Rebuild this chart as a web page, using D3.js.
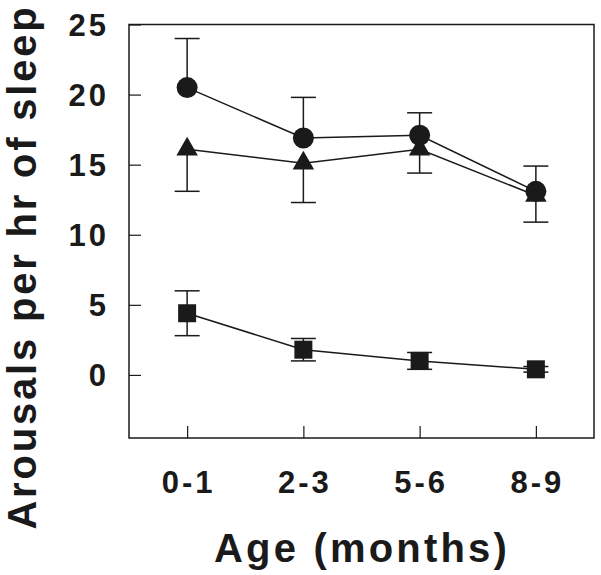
<!DOCTYPE html>
<html><head><meta charset="utf-8">
<script src="https://cdn.jsdelivr.net/npm/d3@7"></script>
<style>body{margin:0;background:#fff}svg{display:block}text{font-family:"Liberation Sans",Arial,Helvetica,sans-serif;font-weight:bold;fill:#1a1a1a}</style>
</head><body><svg id="c" width="601" height="575"></svg>
<script>
const categories = ["0-1", "2-3", "5-6", "8-9"];
const yTicks = [0, 5, 10, 15, 20, 25];
const circleVals = [20.5, 16.9, 17.1, 13.1];
const circleErrUp = [24.0, 19.8, 18.7, 14.9];
const triangleVals = [16.1, 15.1, 16.1, 12.8];
const triangleErrDown = [13.1, 12.3, 14.4, 10.9];
const squareVals = [4.4, 1.8, 1.0, 0.4];
const squareErrUp = [6.0, 2.6, 1.6, 0.6];
const squareErrDown = [2.8, 1.0, 0.4, 0.2];

const svg = d3.select("#c");
const L = 129, R = 594, T = 24.5, B = 438;
const x = d3.scaleLinear().domain([-0.5, categories.length - 0.5]).range([L, R]);
const y = d3.scaleLinear().domain([-4.5, 25]).range([B, T]);
const ink = "#1a1a1a";

// frame
svg.append("rect").attr("x", L).attr("y", T).attr("width", R - L).attr("height", B - T)
  .attr("fill", "none").attr("stroke", ink).attr("stroke-width", 1.5);

// y axis
const ya = svg.append("g").attr("transform", `translate(${L},0)`)
  .call(d3.axisRight(y).tickValues(yTicks).tickSize(12).tickPadding(0).tickFormat(""));
ya.select(".domain").remove();
ya.selectAll("line").attr("stroke", ink).attr("stroke-width", 1.2);
svg.append("g").selectAll("text").data(yTicks).join("text")
  .attr("x", 109).attr("y", d => y(d)).attr("dy", "0.36em")
  .attr("text-anchor", "end").attr("font-size", 31).attr("letter-spacing", 3)
  .text(d => d);

// x axis
const xa = svg.append("g").attr("transform", `translate(0,${B})`)
  .call(d3.axisTop(x).tickValues(d3.range(categories.length)).tickSize(12).tickFormat(""));
xa.select(".domain").remove();
xa.selectAll("line").attr("stroke", ink).attr("stroke-width", 1.2);
svg.append("g").selectAll("text").data(categories).join("text")
  .attr("x", (d, i) => x(i) + 1.5).attr("y", 493)
  .attr("text-anchor", "middle").attr("font-size", 31).attr("letter-spacing", 3)
  .text(d => d);

// titles
svg.append("text").attr("x", 362).attr("y", 562).attr("text-anchor", "middle")
  .attr("font-size", 40).attr("letter-spacing", 3.2).text("Age (months)");
svg.append("text").attr("transform", "translate(36,267) rotate(-90)").attr("text-anchor", "middle")
  .attr("font-size", 40).attr("letter-spacing", 2.8).text("Arousals per hr of sleep");

const idx = d3.range(categories.length);
const line = d3.line().x(d => x(d[0])).y(d => y(d[1]));
const cap = 12.5;
function errBar(g, i, a, b) {
  g.append("line").attr("x1", x(i)).attr("x2", x(i)).attr("y1", y(a)).attr("y2", y(b));
  g.append("line").attr("x1", x(i) - cap).attr("x2", x(i) + cap).attr("y1", y(b)).attr("y2", y(b));
}
const eg = svg.append("g").attr("stroke", ink).attr("stroke-width", 1.5);
idx.forEach(i => {
  errBar(eg, i, circleVals[i], circleErrUp[i]);
  errBar(eg, i, triangleVals[i], triangleErrDown[i]);
  errBar(eg, i, squareVals[i], squareErrUp[i]);
  errBar(eg, i, squareVals[i], squareErrDown[i]);
});

[circleVals, triangleVals, squareVals].forEach(vals => {
  svg.append("path").datum(idx.map(i => [i, vals[i]])).attr("d", line)
    .attr("fill", "none").attr("stroke", ink).attr("stroke-width", 1.5);
});

const mg = svg.append("g").attr("fill", ink);
const sym = (type, size) => d3.symbol().type(type).size(size)();
mg.selectAll(".c").data(idx).join("path")
  .attr("transform", i => `translate(${x(i)},${y(circleVals[i])})`).attr("d", sym(d3.symbolCircle, 346));
mg.selectAll(".t").data(idx).join("path")
  .attr("transform", i => `translate(${x(i)},${y(triangleVals[i])})`).attr("d", sym(d3.symbolTriangle, 200));
mg.selectAll(".s").data(idx).join("path")
  .attr("transform", i => `translate(${x(i)},${y(squareVals[i])})`).attr("d", sym(d3.symbolSquare, 324));
</script></body></html>
